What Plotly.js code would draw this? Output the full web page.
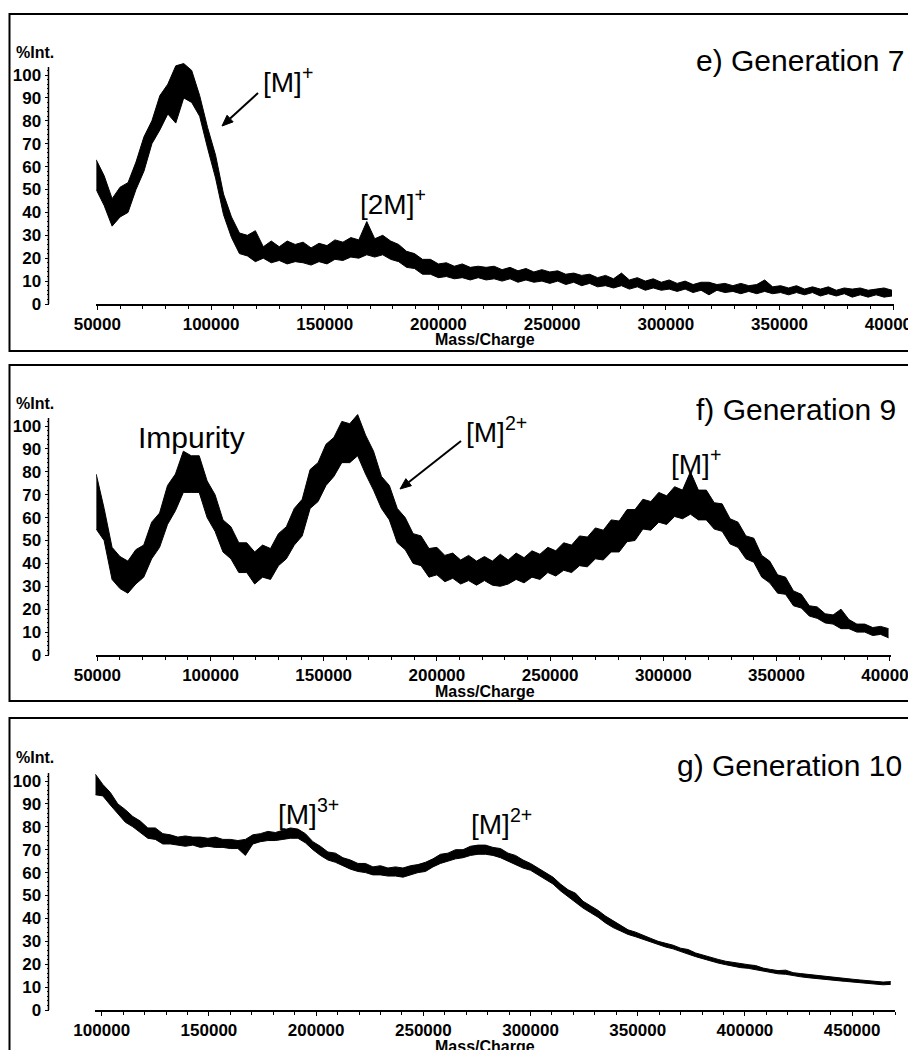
<!DOCTYPE html>
<html>
<head>
<meta charset="utf-8">
<script src="https://cdn.plot.ly/plotly-3.0.1.min.js"></script>
<style>html,body{margin:0;padding:0;background:#fff}#chart{width:908px;height:1050px}</style>
</head>
<body>
<div id="chart"></div>
<script>
// ---- Data: top and bottom edge of the noisy trace (%Int.), every 3500 m/z ----
const mzStep = 3500;
const mzStartE = 49500;
const upperE = [
63, 56, 46, 51, 53, 62, 73, 80, 91, 96,
104, 105, 102, 91, 77, 65, 48, 38, 31, 30,
32, 25, 27.5, 25, 27.5, 26, 27, 24.5, 26.5, 25.5,
28, 27, 29, 28, 36, 28.5, 30, 27.5, 26, 23,
22, 19.5, 19.5, 17.5, 18, 16.5, 17.5, 16, 16.5, 16,
16.5, 15, 16, 14.5, 15.5, 14, 15, 14, 14.5, 13,
13.5, 12.5, 13, 11.5, 12.5, 11, 13.5, 10.5, 11.5, 10,
11, 9.5, 10.5, 9, 10, 8.5, 9.5, 9.5, 8.5, 9,
8, 9, 8, 8.5, 10.5, 7.5, 8, 7, 8, 6.5,
7.5, 6.5, 7.5, 6, 7, 6.5, 7, 6, 6.5, 7,
6
];
const lowerE = [
50, 43, 34, 38, 40, 50, 58, 70, 76, 83,
79, 90, 88, 82, 68, 55, 39, 29, 22, 21,
18.5, 20, 18, 19, 17.5, 18.5, 18, 17, 18.5, 17.5,
19.5, 19, 20.5, 20, 21.5, 20.5, 21.5, 19.5, 18.5, 16,
15.5, 13, 13, 11.5, 12, 11, 11.5, 10.5, 11.5, 10.5,
11, 10, 11, 9.5, 10.5, 9.5, 10, 9, 10, 8.5,
9.5, 8, 9, 7.5, 8, 7, 8, 6.5, 7.5, 6,
7, 6, 6.5, 5.5, 6.5, 5, 6, 4, 6, 5,
5.5, 4.5, 5.5, 4.5, 5.5, 4.5, 5, 4, 5, 4,
5, 3.5, 4.5, 3.5, 4.5, 3, 4, 3, 4, 3,
3.5
];
const mzStartF = 49500;
const upperF = [
79, 64, 47, 43, 41, 46, 48, 58, 62, 74,
79, 89, 87, 87, 76, 70, 59, 56, 49, 49,
45, 48, 46.5, 53, 56, 64, 68, 81, 84, 92,
95, 102, 101, 105, 96, 89, 78, 74, 64, 60,
53, 52, 46.5, 47, 43.5, 44.5, 41.5, 43.5, 41, 43,
41, 44, 41.5, 44.5, 42.5, 45.5, 44, 47, 45.5, 49,
48, 52, 51.5, 55.5, 54.5, 59, 58.5, 63.5, 63.5, 68,
67, 71, 69.5, 73.5, 72, 80, 72, 72, 66.5, 66,
59.5, 58, 52, 51, 43.5, 41, 35, 34, 28, 26.5,
21.5, 21, 18, 17.5, 20, 15.5, 13.5, 13.5, 12, 12.5,
11.5
];
const lowerF = [
55, 50, 33, 29, 27, 31, 34, 42, 47, 57,
63, 71, 71, 71, 60, 54, 45, 42, 36, 36,
31, 34, 33, 39, 42, 48, 52, 64, 67, 74,
78, 84, 84, 87, 79, 72, 64, 59, 49, 46,
40, 39, 34, 35, 32, 33.5, 31, 32.5, 30.5, 32.5,
30.5, 30, 31, 33, 31.5, 34, 33, 36, 34.5, 37,
36, 39, 38.5, 42, 41.5, 45, 45, 49.5, 50, 55,
54.5, 58, 57, 60.5, 59.5, 61.5, 59, 59, 55, 54,
48.5, 47, 42, 40.5, 34, 31.5, 27, 26.5, 21.5, 20.5,
17, 16, 14, 13.5, 11.5, 11.5, 10, 10, 8.5, 9,
7.5
];
const mzStartG = 97000;
const upperG = [
103, 98.5, 95, 90, 87.5, 84.5, 82.5, 79.5, 79.5, 77,
76.5, 75.5, 76, 75.5, 75.5, 75, 75.5, 74.5, 74.5, 74,
74.5, 76.5, 77, 78, 77.5, 78.5, 79.5, 79, 77, 73.5,
71.5, 69, 68.5, 66.5, 65.5, 64, 64, 62.5, 63, 62,
62.5, 62, 63, 63.5, 64.5, 66, 68, 68.5, 70, 70,
71.5, 72, 72, 71, 70.5, 68.5, 67.5, 65.5, 64, 62,
60, 58, 55, 52.5, 51, 47.5, 45.5, 43.5, 41, 39,
37, 35, 34, 32.5, 31.3, 30, 29.1, 28.3, 27, 26.4,
24.9, 23.9, 22.9, 22.1, 21.3, 20.7, 20.1, 19.8, 19.4, 18.3,
17.7, 17.2, 17.4, 16.3, 15.9, 15.5, 15.1, 14.7, 14.3, 14,
13.7, 13.4, 13.1, 12.8, 12.5, 12.2, 12.4
];
const lowerG = [
94, 93.5, 89.5, 85.5, 82, 80, 77.5, 75, 74.5, 72.5,
72.5, 72, 71.5, 72, 71, 71.5, 71, 71, 70.5, 70.5,
67.5, 72.5, 73.5, 74, 74, 74.5, 75, 75, 73, 70,
67.5, 65.5, 64.5, 63, 61.5, 60.5, 60, 59, 59, 58.5,
58.5, 58, 59, 60, 60.5, 62.5, 64, 65, 66, 66.5,
67.5, 68, 68, 67.5, 66.5, 65, 63.5, 62, 61, 59,
57, 55, 52, 49.5, 47, 44.5, 42.5, 40.5, 38, 36,
34.5, 33, 32, 30.8, 29.7, 28.4, 27.5, 26.7, 25.4, 24.4,
23.3, 22.3, 21.3, 20.5, 19.8, 19.1, 18.5, 18.2, 17.6, 16.8,
16.2, 15.8, 15.6, 14.9, 14.5, 14.1, 13.7, 13.4, 13.1, 12.8,
12.5, 12.2, 11.9, 11.6, 11.3, 11, 11.2
];
// sampling grid (m/z) of each trace
const mzE = upperE.map((_, i) => mzStartE + i * mzStep);
const mzF = upperF.map((_, i) => mzStartF + i * mzStep);
const mzG = upperG.map((_, i) => mzStartG + i * mzStep);

// tick labels and texts
const xTicksEF = [50000, 100000, 150000, 200000, 250000, 300000, 350000, 400000];
const xTicksG = [100000, 150000, 200000, 250000, 300000, 350000, 400000, 450000];
const yTicks = [0, 10, 20, 30, 40, 50, 60, 70, 80, 90, 100];
const yAxisTop = 103.5;
const panelTitles = ['e) Generation 7', 'f) Generation 9', 'g) Generation 10'];
const xTitle = 'Mass/Charge';
const yTitle = '%Int.';

// ---- layout helpers (pixel -> paper) ----
const W = 908, H = 1050;
const px = v => v / W;
const py = v => 1 - v / H;
const FONT = 'Arial, "Liberation Sans", Helvetica, sans-serif';
const yMinor = [];
for (let v = 2; v <= yAxisTop; v += 2) if (v % 10 !== 0) yMinor.push(v);

function xAxis(domain, range, ticks, anchor) {
  return {
    domain: domain, range: range, anchor: anchor,
    showline: true, linecolor: '#000', linewidth: 1.5,
    ticks: 'outside', ticklen: 4, tickwidth: 1, tickcolor: '#000',
    tickmode: 'array', tickvals: ticks, ticktext: ticks.map(String),
    ticklabeloverflow: 'allow',
    tickfont: {family: FONT, size: 17, color: '#000', weight: 'bold'},
    minor: {tickmode: 'linear', tick0: ticks[0], dtick: 10000, ticks: 'outside', ticklen: 3, tickcolor: '#000', tickwidth: 1},
    showgrid: false, zeroline: false, fixedrange: true
  };
}
function yAxis(domain) {
  return {
    domain: domain, range: [0, 106], anchor: 'free', position: px(48.5), side: 'left',
    showline: false,
    ticks: 'outside', ticklen: 4, tickwidth: 1, tickcolor: '#000',
    tickmode: 'array', tickvals: yTicks, ticktext: yTicks.map(String),
    tickfont: {family: FONT, size: 17, color: '#000', weight: 'bold'},
    ticklabelstandoff: 0,
    minor: {tickmode: 'array', tickvals: yMinor, ticks: 'outside', ticklen: 2, tickcolor: '#000', tickwidth: 1},
    showgrid: false, zeroline: false, fixedrange: true
  };
}

const edge = {color: '#000', width: 1};
function band(mz, lower, upper, xa, ya) {
  return [
    {x: mz, y: lower, xaxis: xa, yaxis: ya, type: 'scatter', mode: 'lines', line: edge, hoverinfo: 'skip'},
    {x: mz, y: upper, xaxis: xa, yaxis: ya, type: 'scatter', mode: 'lines', line: edge,
     fill: 'tonexty', fillcolor: '#000', hoverinfo: 'skip'}
  ];
}
const traces = [].concat(
  band(mzE, lowerE, upperE, 'x', 'y'),
  band(mzF, lowerF, upperF, 'x2', 'y2'),
  band(mzG, lowerG, upperG, 'x3', 'y3')
);

const labelFont = {family: FONT, size: 28, color: '#000'};
const titleFont = {family: FONT, size: 30, color: '#000'};
const smallBold = {family: FONT, size: 16, color: '#000', weight: 'bold'};

function txt(text, x, y, font, xanchor) {
  return {text: text, xref: 'paper', yref: 'paper', x: px(x), y: py(y), xanchor: xanchor || 'left', yanchor: 'middle', showarrow: false, font: font};
}

const annotations = [
  // panel e
  txt(yTitle, 14, 52, smallBold),
  txt(panelTitles[0], 906, 60, titleFont, 'right'),
  txt('[M]<sup>+</sup>', 261, 80, labelFont),
  txt('[2M]<sup>+</sup>', 358, 202, labelFont),
  txt(xTitle, 485, 340, smallBold, 'center'),
  // panel f
  txt(yTitle, 14, 403, smallBold),
  txt(panelTitles[1], 898, 410, titleFont, 'right'),
  txt('Impurity', 136, 437, {family: FONT, size: 30, color: '#000'}),
  txt('[M]<sup>2+</sup>', 464, 430, labelFont),
  txt('[M]<sup>+</sup>', 669, 462, labelFont),
  txt(xTitle, 485, 692, smallBold, 'center'),
  // panel g
  txt(yTitle, 14, 757, smallBold),
  txt(panelTitles[2], 904, 765, titleFont, 'right'),
  txt('[M]<sup>3+</sup>', 276, 812, labelFont),
  txt('[M]<sup>2+</sup>', 469, 822, labelFont),
  txt(xTitle, 485, 1046, smallBold, 'center')
];

function box(top, bottom) {
  return {type: 'rect', xref: 'paper', yref: 'paper', x0: px(9.5), x1: 1.05, y0: py(bottom), y1: py(top),
          line: {color: '#000', width: 2}, fillcolor: 'rgba(0,0,0,0)'};
}
function yLine(ya) {
  return {type: 'line', xref: 'paper', yref: ya, x0: px(48.5), x1: px(48.5), y0: 0, y1: yAxisTop,
          line: {color: '#000', width: 1.5}};
}
// arrow = line + filled head, given tail and tip in pixels
function arrowShapes(tx, ty, hx, hy) {
  const dx = hx - tx, dy = hy - ty, L = Math.hypot(dx, dy);
  const ux = dx / L, uy = dy / L, hl = 11, hw = 4.5;
  const bx = hx - hl * ux, by = hy - hl * uy;
  const nx = -uy, ny = ux;
  const p = (x, y) => px(x) + ',' + py(y);
  return [
    {type: 'line', xref: 'paper', yref: 'paper', x0: px(tx), y0: py(ty), x1: px(bx), y1: py(by), line: {color: '#000', width: 2}},
    {type: 'path', xref: 'paper', yref: 'paper',
     path: 'M' + p(hx, hy) + ' L' + p(bx + hw * nx, by + hw * ny) + ' L' + p(bx - hw * nx, by - hw * ny) + ' Z',
     fillcolor: '#000', line: {color: '#000', width: 1}}
  ];
}

const layout = {
  width: W, height: H,
  margin: {l: 0, r: 0, t: 0, b: 0},
  paper_bgcolor: '#fff', plot_bgcolor: 'rgba(0,0,0,0)',
  showlegend: false,
  xaxis: xAxis([px(96.2), px(894.3)], [49500, 400500], xTicksEF, 'y'),
  yaxis: yAxis([py(304), py(304 - 106 * 2.29)]),
  xaxis2: xAxis([px(96.2), px(890.8)], [49500, 400500], xTicksEF, 'y2'),
  yaxis2: yAxis([py(655), py(655 - 106 * 2.29)]),
  xaxis3: xAxis([px(95.3), px(895.0)], [97000, 470000], xTicksG, 'y3'),
  yaxis3: yAxis([py(1010), py(1010 - 106 * 2.29)]),
  shapes: [box(14, 351), box(365, 701), box(718, 1070), yLine('y'), yLine('y2'), yLine('y3')]
    .concat(arrowShapes(258, 93, 222, 126))
    .concat(arrowShapes(461, 441, 400, 489)),
  annotations: annotations
};

Plotly.newPlot('chart', traces, layout, {displayModeBar: false, staticPlot: true});
</script>
</body>
</html>
